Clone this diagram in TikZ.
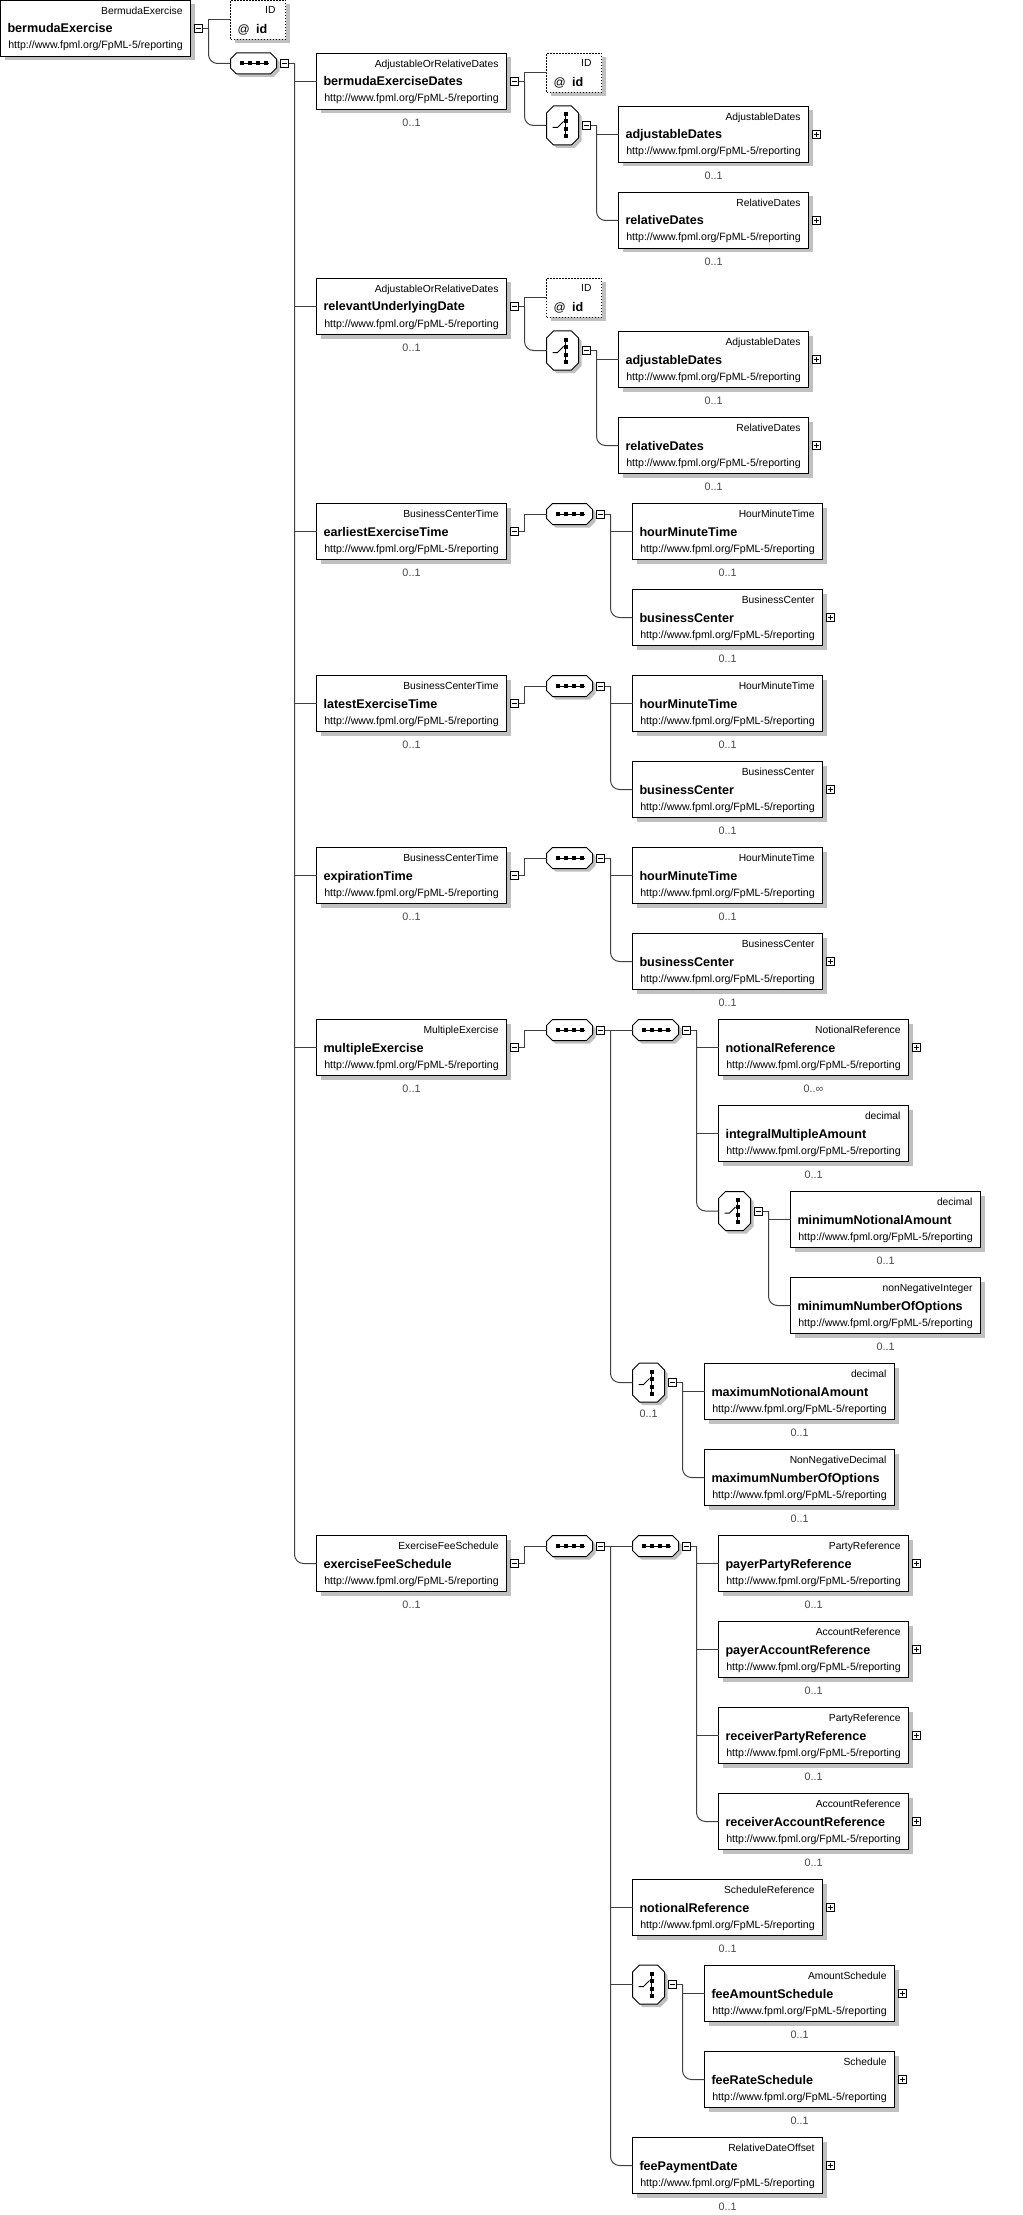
\documentclass[tikz,border=0pt]{standalone}
\usepackage{fontspec}
\setmainfont{Liberation Sans}
\definecolor{shadowc}{RGB}{192,192,192}
\definecolor{connc}{RGB}{64,64,64}
\definecolor{cardc}{RGB}{72,72,72}
\tikzset{
  every node/.style={inner sep=0pt, outer sep=0pt},
  elbox/.style={draw=black, fill=white, line width=1pt, minimum width=190pt, minimum height=56pt},
  idbox/.style={draw=black, fill=white, line width=1pt, dash pattern=on 1.5pt off 1.5pt, minimum width=55pt, minimum height=39pt},
  typel/.style={anchor=base east, font=\fontsize{10.3}{12}\selectfont},
  namel/.style={anchor=base west, font=\bfseries\fontsize{12.6}{14}\selectfont},
  urll/.style={anchor=base, font=\fontsize{10.6}{12}\selectfont},
  cardl/.style={anchor=base, text=cardc, font=\fontsize{10.8}{12}\selectfont},
  mbox/.style={draw=black, fill=white, line width=0.8pt, minimum width=8pt, minimum height=8pt,
    path picture={\draw[line width=0.8pt] ([xshift=1.6pt]path picture bounding box.west) -- ([xshift=-1.6pt]path picture bounding box.east);}},
  pbox/.style={draw=black, fill=white, line width=0.8pt, minimum width=8pt, minimum height=8pt,
    path picture={\draw[line width=0.8pt] ([xshift=1.6pt]path picture bounding box.west) -- ([xshift=-1.6pt]path picture bounding box.east)
      ([yshift=1.6pt]path picture bounding box.south) -- ([yshift=-1.6pt]path picture bounding box.north);}},
  conn/.style={draw=connc, line width=1pt},
  rc/.style={conn, rounded corners=9pt},
  compfill/.style={draw=black, fill=white, line width=1pt},
}
% element box: name, left, cy, type, label
\newcommand{\Elem}[5]{%
  \fill[shadowc] (#2+4,#3-24) rectangle (#2+194,#3+32);
  \node[elbox] (#1) at (#2+95,#3) {};
  \node[typel] (#1t) at (#2+182,#3-14) {#4};
  \node[namel] (#1n) at (#2+7,#3+4.5) {#5};
  \node[urll] (#1u) at (#2+95,#3+20.5) {http://www.fpml.org/FpML-5/reporting};
}
\newcommand{\EN}[6]{\Elem{#1}{#2}{#3}{#4}{#5}\node[cardl] (#1c) at (#2+95,#3+44.7) {#6};}
\newcommand{\EP}[6]{\EN{#1}{#2}{#3}{#4}{#5}{#6}\node[pbox] (#1p) at (#2+198,#3) {};}
\newcommand{\EM}[6]{\EN{#1}{#2}{#3}{#4}{#5}{#6}\node[mbox] (#1m) at (#2+198,#3) {};}
% attribute box: name, left, cy
\newcommand{\IDbox}[3]{%
  \fill[shadowc] (#2+4,#3-15.5) rectangle (#2+59,#3+23.5);
  \node[idbox] (#1) at (#2+27.5,#3) {};
  \node[anchor=base east, font=\fontsize{10.3}{12}\selectfont] (#1t) at (#2+45,#3-6) {ID};
  \node[anchor=base west, font=\fontsize{12}{13}\selectfont] (#1a) at (#2+7,#3+13.5) {@};
  \node[anchor=base west, font=\bfseries\fontsize{12.6}{13}\selectfont] (#1n) at (#2+25.5,#3+13.5) {id};
}
% octagon: left, top, width, height, chamfer, style
\newcommand{\Oct}[6]{\path[#6] (#1+#5,#2) -- (#1+#3-#5,#2) -- (#1+#3,#2+#5) -- (#1+#3,#2+#4-#5) -- (#1+#3-#5,#2+#4) -- (#1+#5,#2+#4) -- (#1,#2+#4-#5) -- (#1,#2+#5) -- cycle;}
% sequence compositor: name, left, cy
\newcommand{\Seq}[3]{%
  \Oct{#2+3}{#3-7.5}{46}{21}{6}{fill=shadowc}
  \Oct{#2}{#3-10.5}{46}{21}{6}{compfill}
  \node[minimum width=46pt, minimum height=21pt] (#1) at (#2+23,#3) {};
  \draw[line width=1pt] (#2+9,#3) -- (#2+38,#3);
  \foreach \q in {11,19,27,35}{\fill (#2+\q-2,#3-2) rectangle (#2+\q+2,#3+2);}
  \node[mbox] (#1m) at (#2+54,#3) {};
}
% choice compositor: name, left, cy
\newcommand{\Cho}[3]{%
  \Oct{#2+3}{#3-16.5}{32}{39}{7}{fill=shadowc}
  \Oct{#2}{#3-19.5}{32}{39}{7}{compfill}
  \node[minimum width=32pt, minimum height=39pt] (#1) at (#2+16,#3) {};
  \draw[line width=1pt] (#2+19,#3-13) -- (#2+19,#3+13);
  \foreach \q in {-11,-4,4,11}{\fill (#2+17,#3+\q-2) rectangle (#2+21,#3+\q+2);}
  \draw[line width=1pt] (#2+6,#3+2) -- (#2+11,#3+2) -- (#2+17,#3-4);
  \node[mbox] (#1m) at (#2+40,#3) {};
}
\begin{document}
\begin{tikzpicture}[x=1pt,y=-1pt]
\useasboundingbox (0,0) rectangle (1022,2215);
\fill[white] (0,0) rectangle (1022,2215);

% root
\Elem{root}{0.5}{28.5}{BermudaExercise}{bermudaExercise}
\node[mbox] (rootm) at (198.5,28.5) {};
\IDbox{rootid}{230.5}{20}
\Seq{rs}{230.5}{63.5}

% bermudaExerciseDates
\EM{bed}{316.5}{81.5}{AdjustableOrRelativeDates}{bermudaExerciseDates}{0..1}
\IDbox{bedid}{546.5}{73}
\Cho{bedch}{546.5}{125.5}
\EP{bedad}{618.5}{134.5}{AdjustableDates}{adjustableDates}{0..1}
\EP{bedrd}{618.5}{220.5}{RelativeDates}{relativeDates}{0..1}

% relevantUnderlyingDate
\EM{rud}{316.5}{306.5}{AdjustableOrRelativeDates}{relevantUnderlyingDate}{0..1}
\IDbox{rudid}{546.5}{298}
\Cho{rudch}{546.5}{350.5}
\EP{rudad}{618.5}{359.5}{AdjustableDates}{adjustableDates}{0..1}
\EP{rudrd}{618.5}{445.5}{RelativeDates}{relativeDates}{0..1}

% earliestExerciseTime
\EM{eet}{316.5}{531.5}{BusinessCenterTime}{earliestExerciseTime}{0..1}
\Seq{eets}{546.5}{514}
\EN{eeth}{632.5}{531.5}{HourMinuteTime}{hourMinuteTime}{0..1}
\EP{eetb}{632.5}{617.5}{BusinessCenter}{businessCenter}{0..1}

% latestExerciseTime
\EM{lxt}{316.5}{703.5}{BusinessCenterTime}{latestExerciseTime}{0..1}
\Seq{lxts}{546.5}{686}
\EN{lxth}{632.5}{703.5}{HourMinuteTime}{hourMinuteTime}{0..1}
\EP{lxtb}{632.5}{789.5}{BusinessCenter}{businessCenter}{0..1}

% expirationTime
\EM{ext}{316.5}{875.5}{BusinessCenterTime}{expirationTime}{0..1}
\Seq{exts}{546.5}{858}
\EN{exth}{632.5}{875.5}{HourMinuteTime}{hourMinuteTime}{0..1}
\EP{extb}{632.5}{961.5}{BusinessCenter}{businessCenter}{0..1}

% multipleExercise
\EM{mx}{316.5}{1047.5}{MultipleExercise}{multipleExercise}{0..1}
\Seq{mxs}{546.5}{1030}
\Seq{mxss}{632.5}{1030}
\EP{mxnr}{718.5}{1047.5}{NotionalReference}{notionalReference}{0..∞}
\EN{mxim}{718.5}{1133.5}{decimal}{integralMultipleAmount}{0..1}
\Cho{mxch1}{718.5}{1211}
\EN{mxmn}{790.5}{1219.5}{decimal}{minimumNotionalAmount}{0..1}
\EN{mxmo}{790.5}{1305.5}{nonNegativeInteger}{minimumNumberOfOptions}{0..1}
\Cho{mxch2}{632.5}{1382.5}
\node[cardl] (mxch2c) at (648.5,1417) {0..1};
\EN{mxxn}{704.5}{1391.5}{decimal}{maximumNotionalAmount}{0..1}
\EN{mxxo}{704.5}{1477.5}{NonNegativeDecimal}{maximumNumberOfOptions}{0..1}

% exerciseFeeSchedule
\EM{efs}{316.5}{1563.5}{ExerciseFeeSchedule}{exerciseFeeSchedule}{0..1}
\Seq{efsa}{546.5}{1546}
\Seq{efsb}{632.5}{1546}
\EP{efsppr}{718.5}{1563.5}{PartyReference}{payerPartyReference}{0..1}
\EP{efspar}{718.5}{1649.5}{AccountReference}{payerAccountReference}{0..1}
\EP{efsrpr}{718.5}{1735.5}{PartyReference}{receiverPartyReference}{0..1}
\EP{efsrar}{718.5}{1821.5}{AccountReference}{receiverAccountReference}{0..1}
\EP{efsnr}{632.5}{1907.5}{ScheduleReference}{notionalReference}{0..1}
\Cho{efsch}{632.5}{1984.5}
\EP{efsfas}{704.5}{1993.5}{AmountSchedule}{feeAmountSchedule}{0..1}
\EP{efsfrs}{704.5}{2079.5}{Schedule}{feeRateSchedule}{0..1}
\EP{efsfpd}{632.5}{2165.5}{RelativeDateOffset}{feePaymentDate}{0..1}

% ---------- connectors ----------
\coordinate (rootT) at (208.5,28.5);
\draw[conn] (rootm.east) -- (rootT);
\draw[conn] (rootT) |- (rootid.west);
\draw[rc] (rootT) |- (rs.west);
\coordinate (rsT) at (294.5,63.5);
\draw[conn] (rsm.east) -- (rsT);
\foreach \c in {bed,rud,eet,lxt,ext,mx} {\draw[conn] (rsT) |- (\c.west);}
\draw[rc] (rsT) |- (efs.west);

\foreach \e/\y in {bed/81.5,rud/306.5} {
  \coordinate (\e T) at (524.5,\y);
  \draw[conn] (\e m.east) -- (\e T);
  \draw[conn] (\e T) |- (\e id.west);
  \draw[rc] (\e T) |- (\e ch.west);
}
\foreach \e/\y in {bed/125.5,rud/350.5} {
  \coordinate (\e chT) at (596.5,\y);
  \draw[conn] (\e chm.east) -- (\e chT);
  \draw[conn] (\e chT) |- (\e ad.west);
  \draw[rc] (\e chT) |- (\e rd.west);
}
\foreach \e/\y/\s in {eet/531.5/514,lxt/703.5/686,ext/875.5/858} {
  \coordinate (\e T) at (524.5,\y);
  \draw[conn] (\e m.east) -- (\e T) |- (\e s.west);
  \coordinate (\e sT) at (610.5,\s);
  \draw[conn] (\e sm.east) -- (\e sT);
  \draw[conn] (\e sT) |- (\e h.west);
  \draw[rc] (\e sT) |- (\e b.west);
}

\coordinate (mxT) at (524.5,1047.5);
\draw[conn] (mxm.east) -- (mxT) |- (mxs.west);
\coordinate (mxsT) at (610.5,1030);
\draw[conn] (mxsm.east) -- (mxsT) -- (mxss.west);
\draw[rc] (mxsT) |- (mxch2.west);
\coordinate (mxssT) at (696.5,1030);
\draw[conn] (mxssm.east) -- (mxssT);
\draw[conn] (mxssT) |- (mxnr.west);
\draw[conn] (mxssT) |- (mxim.west);
\draw[rc] (mxssT) |- (mxch1.west);
\coordinate (mxch1T) at (768.5,1211);
\draw[conn] (mxch1m.east) -- (mxch1T);
\draw[conn] (mxch1T) |- (mxmn.west);
\draw[rc] (mxch1T) |- (mxmo.west);
\coordinate (mxch2T) at (682.5,1382.5);
\draw[conn] (mxch2m.east) -- (mxch2T);
\draw[conn] (mxch2T) |- (mxxn.west);
\draw[rc] (mxch2T) |- (mxxo.west);

\coordinate (efsT) at (524.5,1563.5);
\draw[conn] (efsm.east) -- (efsT) |- (efsa.west);
\coordinate (efsaT) at (610.5,1546);
\draw[conn] (efsam.east) -- (efsaT) -- (efsb.west);
\draw[conn] (efsaT) |- (efsnr.west);
\draw[conn] (efsaT) |- (efsch.west);
\draw[rc] (efsaT) |- (efsfpd.west);
\coordinate (efsbT) at (696.5,1546);
\draw[conn] (efsbm.east) -- (efsbT);
\draw[conn] (efsbT) |- (efsppr.west);
\draw[conn] (efsbT) |- (efspar.west);
\draw[conn] (efsbT) |- (efsrpr.west);
\draw[rc] (efsbT) |- (efsrar.west);
\coordinate (efschT) at (682.5,1984.5);
\draw[conn] (efschm.east) -- (efschT);
\draw[conn] (efschT) |- (efsfas.west);
\draw[rc] (efschT) |- (efsfrs.west);
\end{tikzpicture}
\end{document}
